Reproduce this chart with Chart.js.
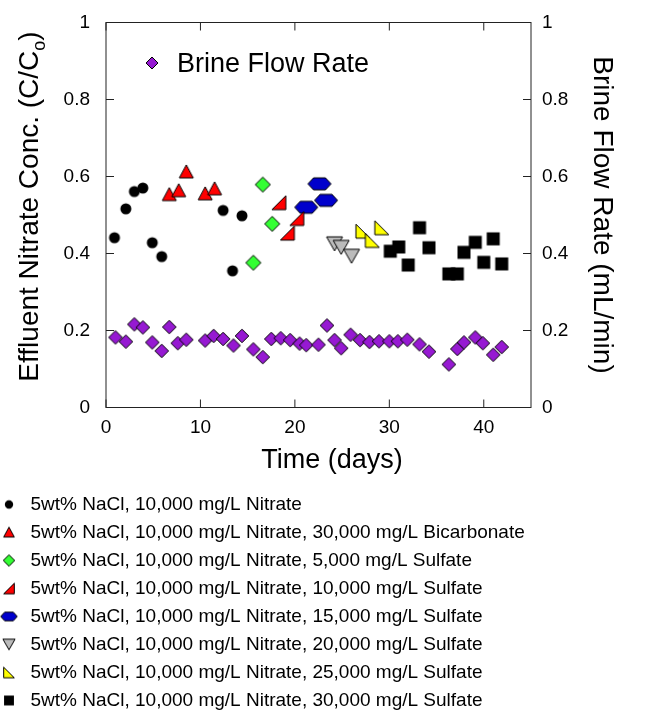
<!DOCTYPE html>
<html>
<head>
<meta charset="utf-8">
<script src="https://cdn.jsdelivr.net/npm/chart.js@4"></script>
<style>
  html, body { margin: 0; padding: 0; background: #fff; }
</style>
</head>
<body>
<canvas id="chart1" width="654" height="713"></canvas>
<script>
// ---- datos ----
const brineDays = [1.0, 2.1, 3.0, 3.9, 4.9, 5.9, 6.7, 7.6, 8.5, 10.5, 11.4, 12.4, 13.5, 14.4, 15.6, 16.6, 17.5, 18.5, 19.5, 20.5, 21.2, 22.5, 23.4, 24.2, 24.9, 25.9, 26.9, 27.9, 28.9, 30.0, 30.9, 31.9, 33.2, 34.2, 36.3, 37.2, 37.9, 39.1, 39.9, 41.0, 41.9];
const brineFlow = [0.182, 0.171, 0.216, 0.208, 0.169, 0.147, 0.209, 0.167, 0.176, 0.174, 0.186, 0.178, 0.161, 0.186, 0.151, 0.131, 0.178, 0.180, 0.175, 0.166, 0.162, 0.163, 0.213, 0.175, 0.154, 0.189, 0.175, 0.170, 0.172, 0.172, 0.172, 0.176, 0.164, 0.145, 0.112, 0.152, 0.169, 0.182, 0.167, 0.137, 0.157];

const nitrateDays = [0.9, 2.1, 3.0, 3.9, 4.9, 5.9, 12.4, 13.4, 14.4];
const nitrateConc = [0.441, 0.516, 0.561, 0.570, 0.428, 0.392, 0.512, 0.355, 0.498];

const bicarbDays = [6.7, 7.7, 8.5, 10.5, 11.5];
const bicarbConc = [0.553, 0.563, 0.612, 0.555, 0.568];

const sulf5Days = [15.6, 16.6, 17.6];
const sulf5Conc = [0.376, 0.579, 0.477];

const sulf10Days = [18.3, 19.2, 20.2];
const sulf10Conc = [0.532, 0.453, 0.491];

const sulf15Days = [21.2, 22.6, 23.3];
const sulf15Conc = [0.520, 0.581, 0.538];

const sulf20Days = [24.2, 24.9, 26.0];
const sulf20Conc = [0.425, 0.416, 0.393];

const sulf25Days = [27.2, 28.2, 29.2];
const sulf25Conc = [0.458, 0.434, 0.467];

const sulf30Days = [30.1, 31.0, 32.0, 33.2, 34.2, 36.3, 37.2, 37.9, 39.1, 40.0, 41.0, 41.9];
const sulf30Conc = [0.406, 0.417, 0.370, 0.467, 0.415, 0.347, 0.347, 0.403, 0.429, 0.377, 0.438, 0.373];

const seriesLabels = [
  "5wt% NaCl, 10,000 mg/L Nitrate",
  "5wt% NaCl, 10,000 mg/L Nitrate, 30,000 mg/L Bicarbonate",
  "5wt% NaCl, 10,000 mg/L Nitrate, 5,000 mg/L Sulfate",
  "5wt% NaCl, 10,000 mg/L Nitrate, 10,000 mg/L Sulfate",
  "5wt% NaCl, 10,000 mg/L Nitrate, 15,000 mg/L Sulfate",
  "5wt% NaCl, 10,000 mg/L Nitrate, 20,000 mg/L Sulfate",
  "5wt% NaCl, 10,000 mg/L Nitrate, 25,000 mg/L Sulfate",
  "5wt% NaCl, 10,000 mg/L Nitrate, 30,000 mg/L Sulfate",
];
const brineLabel = "Brine Flow Rate";
const xTicks = [0, 10, 20, 30, 40];
const yTicks = [0, 0.2, 0.4, 0.6, 0.8, 1];

const FONT = "'Liberation Sans', Arial, Helvetica, sans-serif";

// ---- marcadores dibujados a mano ----
const shapes = {
  circle: null,
  tri: [[0, -7], [7, 6], [-7, 6]],
  diamond: [[0, -7.5], [7.5, 0], [0, 7.5], [-7.5, 0]],
  rtriR: [[7, -7], [7, 7], [-7, 7]],
  hex: [[-11.5, 0], [-6, -6], [6, -6], [11.5, 0], [6, 6], [-6, 6]],
  triDown: [[-8, -7], [8, -7], [0, 7]],
  rtriL: [[-7, -7], [-7, 7], [7, 7]],
  square: [[-6.5, -6.5], [6.5, -6.5], [6.5, 6.5], [-6.5, 6.5]],
};

function makeIcon(shape, fill, stroke, s, dx) {
  const c = document.createElement("canvas");
  c.width = 40;
  c.height = 24;
  const ctx = c.getContext("2d");
  ctx.translate(20 + (dx || 0), 12);
  ctx.beginPath();
  if (shape === "circle") {
    ctx.arc(0, 0, 5.5 * s, 0, Math.PI * 2);
  } else {
    shapes[shape].forEach((p, i) => {
      if (i === 0) ctx.moveTo(p[0] * s, p[1] * s);
      else ctx.lineTo(p[0] * s, p[1] * s);
    });
    ctx.closePath();
  }
  ctx.fillStyle = fill;
  ctx.fill();
  if (stroke) {
    ctx.strokeStyle = stroke;
    ctx.lineWidth = 1;
    ctx.stroke();
  }
  return c;
}

const styles = [
  ["circle", "#000000", null],
  ["tri", "#ff0000", "#000"],
  ["diamond", "#33ff33", "#000"],
  ["rtriR", "#ff0000", "#000"],
  ["hex", "#0000cc", "#000"],
  ["triDown", "#bbbbbb", "#000"],
  ["rtriL", "#ffff00", "#000"],
  ["square", "#000000", null],
];
const brineIcon = makeIcon("diamond", "#9619d2", "#000", 0.9, 0);
const brineLegendIcon = makeIcon("diamond", "#9619d2", "#000", 0.8, 0);

const seriesDays = [nitrateDays, bicarbDays, sulf5Days, sulf10Days, sulf15Days, sulf20Days, sulf25Days, sulf30Days];
const seriesConc = [nitrateConc, bicarbConc, sulf5Conc, sulf10Conc, sulf15Conc, sulf20Conc, sulf25Conc, sulf30Conc];

const toPoints = (xs, ys) => xs.map((x, i) => ({ x: x, y: ys[i] }));

const datasets = [
  {
    label: brineLabel,
    data: toPoints(brineDays, brineFlow),
    yAxisID: "y2",
    pointStyle: brineIcon,
    pointRadius: 7,
  },
];
seriesLabels.forEach((lab, i) => {
  const st = styles[i];
  datasets.push({
    label: lab,
    data: toPoints(seriesDays[i], seriesConc[i]),
    yAxisID: "y",
    pointStyle: makeIcon(st[0], st[1], st[2], 1, 0),
    legendIcon: makeIcon(st[0], st[1], st[2], st[0] === "hex" ? 0.72 : 0.76, -6),
    pointRadius: 7,
  });
});

// marco con marcas hacia adentro, titulos y leyenda interna
const marco = {
  id: "marco",
  beforeDatasetsDraw(chart) {
    const { ctx, chartArea: a, scales } = chart;
    ctx.save();
    ctx.strokeStyle = "#222";
    ctx.lineWidth = 1;
    ctx.strokeRect(a.left, a.top, a.right - a.left, a.bottom - a.top);
    ctx.beginPath();
    xTicks.forEach((v) => {
      const px = scales.x.getPixelForValue(v);
      ctx.moveTo(px, a.bottom);
      ctx.lineTo(px, a.bottom - 8);
      ctx.moveTo(px, a.top);
      ctx.lineTo(px, a.top + 8);
    });
    yTicks.forEach((v) => {
      const py = scales.y.getPixelForValue(v);
      ctx.moveTo(a.left, py);
      ctx.lineTo(a.left + 8, py);
      const py2 = scales.y2.getPixelForValue(v);
      ctx.moveTo(a.right, py2);
      ctx.lineTo(a.right - 8, py2);
    });
    ctx.stroke();
    ctx.restore();
  },
  afterDraw(chart) {
    const { ctx } = chart;
    ctx.save();
    ctx.fillStyle = "#000";

    // titulo eje x
    ctx.font = "27px " + FONT;
    ctx.textAlign = "center";
    ctx.textBaseline = "alphabetic";
    ctx.fillText("Time (days)", 332, 468);

    // titulo eje y izquierdo con subindice
    const big = "28px " + FONT;
    const small = "18px " + FONT;
    const main = "Effluent Nitrate Conc. (C/C";
    ctx.font = big;
    const w1 = ctx.measureText(main).width;
    const w3 = ctx.measureText(")").width;
    ctx.font = small;
    const w2 = ctx.measureText("o").width;
    ctx.translate(37.5, 206.5);
    ctx.rotate(-Math.PI / 2);
    ctx.textAlign = "left";
    let x = -(w1 + w2 + w3) / 2;
    ctx.font = big;
    ctx.fillText(main, x, 0);
    x += w1;
    ctx.font = small;
    ctx.fillText("o", x, 7);
    x += w2;
    ctx.font = big;
    ctx.fillText(")", x, 0);
    ctx.restore();

    // leyenda interna
    ctx.save();
    ctx.drawImage(brineLegendIcon, 152 - 20, 63 - 12);
    ctx.fillStyle = "#000";
    ctx.font = "27px " + FONT;
    ctx.textAlign = "left";
    ctx.textBaseline = "alphabetic";
    ctx.fillText(brineLabel, 177, 72);
    ctx.restore();
  },
};

const fmtTick = (v) => String(Number(v.toFixed(1)));

const chart1 = document.getElementById("chart1");
const myChart1 = new Chart(chart1, {
  type: "scatter",
  data: { datasets: datasets },
  plugins: [marco],
  options: {
    responsive: false,
    animation: false,
    events: [],
    layout: { padding: { top: 22.5, bottom: -7, left: 0, right: 0 } },
    plugins: {
      tooltip: { enabled: false },
      legend: {
        position: "bottom",
        align: "start",
        labels: {
          usePointStyle: true,
          pointStyleWidth: 12,
          padding: 9,
          color: "#000",
          font: { family: FONT, size: 19 },
          filter: (item) => item.datasetIndex > 0,
          generateLabels: (chart) => {
            const items = Chart.defaults.plugins.legend.labels.generateLabels(chart);
            return items.map((it) => {
              it.pointStyle = chart.data.datasets[it.datasetIndex].legendIcon || it.pointStyle;
              it.rotation = 0;
              return it;
            });
          },
        },
      },
    },
    scales: {
      x: {
        type: "linear",
        min: 0,
        max: 45,
        border: { display: false },
        grid: { display: false, drawTicks: false },
        ticks: {
          stepSize: 10,
          includeBounds: false,
          padding: 9,
          color: "#000",
          font: { family: FONT, size: 19 },
        },
        afterFit: (s) => { s.height = 78.5; },
      },
      y: {
        position: "left",
        min: 0,
        max: 1,
        border: { display: false },
        grid: { display: false, drawTicks: false },
        ticks: {
          stepSize: 0.2,
          padding: 16,
          color: "#000",
          font: { family: FONT, size: 19 },
          callback: fmtTick,
        },
        afterFit: (s) => { s.width = 106; s.paddingTop = 0; s.paddingBottom = 0; },
      },
      y2: {
        position: "right",
        min: 0,
        max: 1,
        border: { display: false },
        grid: { display: false, drawTicks: false },
        ticks: {
          stepSize: 0.2,
          padding: 11,
          color: "#000",
          font: { family: FONT, size: 19 },
          callback: fmtTick,
        },
        title: {
          display: true,
          text: "Brine Flow Rate (mL/min)",
          color: "#000",
          font: { family: FONT, size: 28 },
          padding: { top: 35, bottom: 0 },
        },
        afterFit: (s) => { s.width = 123; s.paddingTop = 0; s.paddingBottom = 0; },
      },
    },
  },
});
</script>
</body>
</html>
